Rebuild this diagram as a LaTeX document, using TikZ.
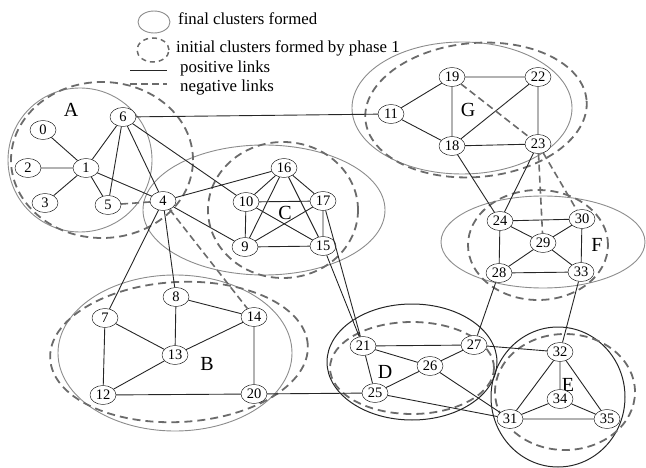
\documentclass[tikz,border=0pt]{standalone}
\usepackage{fontspec}
\setmainfont{Liberation Serif}
\usepackage{tikz}
\usetikzlibrary{shapes,positioning}
\definecolor{finalgray}{gray}{0.55}
\definecolor{initgray}{gray}{0.42}

\begin{document}
\begin{tikzpicture}[x=1pt,y=-1pt,
    vertex/.style={draw,ellipse,fill=white,minimum width=26pt,minimum height=19pt,inner sep=0pt,font=\fontsize{14.5}{14.5}\selectfont},
    poslink/.style={draw=black!85,line width=0.9pt},
    neglink/.style={draw=initgray,line width=1.6pt,dash pattern=on 7pt off 4pt},
    final/.style={draw=finalgray,line width=0.9pt},
    finalblack/.style={draw=black!85,line width=1pt},
    initial/.style={draw=initgray,line width=1.8pt,dash pattern=on 8pt off 5pt},
    clabel/.style={font=\fontsize{20}{20}\selectfont},
    legend/.style={anchor=west,inner sep=0pt,font=\fontsize{16.8}{16.8}\selectfont}]

\useasboundingbox (0,0) rectangle (646,468);

% Legend
\draw[final] (154,22) ellipse [x radius=16pt,y radius=11pt];
\node[legend] (lfinal) at (178,19) {final clusters formed};
\draw[initial,line width=1.5pt,dash pattern=on 5pt off 4pt] (153,50) ellipse [x radius=16pt,y radius=12pt];
\node[legend] (linit) at (176,48) {initial clusters formed by phase 1};
\coordinate (lpa) at (130,70);
\coordinate (lpb) at (167,70);
\draw[poslink] (lpa) -- (lpb);
\node[legend] (lpos) at (180,68) {positive links};
\coordinate (lna) at (130,84);
\coordinate (lnb) at (167,84);
\draw[neglink] (lna) -- (lnb);
\node[legend] (lneg) at (180,87) {negative links};

% Final clusters
\draw[final] (80,160) circle [radius=72pt];
\draw[final] (175,353) ellipse [x radius=117pt,y radius=78pt];
\draw[final] (264,210) ellipse [x radius=121pt,y radius=65pt];
\draw[finalblack] (412,362) ellipse [x radius=85pt,y radius=58pt];
\draw[finalblack] (558,397) ellipse [x radius=67pt,y radius=70pt];
\draw[final] (543,242) ellipse [x radius=102pt,y radius=46pt];
\draw[final] (462,108) ellipse [x radius=110pt,y radius=66pt];

% Initial clusters (phase 1)
\draw[initial] (102,160) ellipse [x radius=91pt,y radius=78pt];
\draw[initial,rotate around={3:(179,352)}] (179,352) ellipse [x radius=129pt,y radius=70pt];
\draw[initial] (283,210) ellipse [x radius=75pt,y radius=68pt];
\draw[initial] (412,368) ellipse [x radius=82pt,y radius=46pt];
\draw[initial] (565,392) ellipse [x radius=70pt,y radius=58pt];
\draw[initial] (538,245) ellipse [x radius=70pt,y radius=55pt];
\draw[initial,rotate around={5:(476,110)}] (476,110) ellipse [x radius=111pt,y radius=67pt];

% Cluster labels
\node[clabel] (labA) at (71,110) {A};
\node[clabel] (labB) at (207,364) {B};
\node[clabel] (labC) at (285,213) {C};
\node[clabel] (labD) at (385,372) {D};
\node[clabel] (labE) at (568,385) {E};
\node[clabel] (labF) at (597,245) {F};
\node[clabel] (labG) at (468,110) {G};

% Vertices
\node[vertex] (n0) at (43,130) {0};
\node[vertex] (n1) at (86,168) {1};
\node[vertex] (n2) at (28,168) {2};
\node[vertex] (n3) at (45,203) {3};
\node[vertex] (n4) at (163,201) {4};
\node[vertex] (n5) at (108,205) {5};
\node[vertex] (n6) at (123,117) {6};
\node[vertex] (n7) at (105,318) {7};
\node[vertex] (n8) at (176,297) {8};
\node[vertex] (n9) at (245,247) {9};
\node[vertex] (n10) at (246,202) {10};
\node[vertex] (n11) at (391,114) {11};
\node[vertex] (n12) at (103,395) {12};
\node[vertex] (n13) at (175,355) {13};
\node[vertex] (n14) at (254,317) {14};
\node[vertex] (n15) at (323,246) {15};
\node[vertex] (n16) at (284,168) {16};
\node[vertex] (n17) at (323,201) {17};
\node[vertex] (n18) at (452,146) {18};
\node[vertex] (n19) at (452,77) {19};
\node[vertex] (n20) at (254,394) {20};
\node[vertex] (n21) at (363,346) {21};
\node[vertex] (n22) at (538,77) {22};
\node[vertex] (n23) at (538,144) {23};
\node[vertex] (n24) at (500,221) {24};
\node[vertex] (n25) at (375,393) {25};
\node[vertex] (n26) at (430,366) {26};
\node[vertex] (n27) at (474,345) {27};
\node[vertex] (n28) at (499,273) {28};
\node[vertex] (n29) at (543,243) {29};
\node[vertex] (n30) at (582,219) {30};
\node[vertex] (n31) at (510,419) {31};
\node[vertex] (n32) at (560,352) {32};
\node[vertex] (n33) at (581,272) {33};
\node[vertex] (n34) at (560,399) {34};
\node[vertex] (n35) at (607,419) {35};

% Positive links
\draw[poslink] (n0) -- (n1) (n2) -- (n1) (n3) -- (n1) (n1) -- (n5) (n1) -- (n6) (n1) -- (n4);
\draw[poslink] (n6) -- (n5) (n6) -- (n4) (n6) -- (n10) (n6) -- (n11);
\draw[poslink] (n4) -- (n16) (n4) -- (n9) (n4) -- (n7) (n4) -- (n8);
\draw[poslink] (n16) -- (n10) (n16) -- (n17) (n16) -- (n9) (n16) -- (n15) (n10) -- (n17);
\draw[poslink] (n10) -- (n9) (n10) -- (n15) (n17) -- (n9) (n17) -- (n15) (n9) -- (n15);
\draw[poslink] (n15) -- (n21) (n17) -- (n21) (n21) -- (n25);
\draw[poslink] (n7) -- (n12) (n7) -- (n13) (n8) -- (n13) (n8) -- (n14) (n13) -- (n14);
\draw[poslink] (n13) -- (n12) (n14) -- (n20) (n12) -- (n20) (n20) -- (n25);
\draw[poslink] (n11) -- (n19) (n11) -- (n18) (n19) -- (n22) (n19) -- (n18) (n18) -- (n22);
\draw[poslink] (n18) -- (n23) (n22) -- (n23) (n18) -- (n24) (n23) -- (n24);
\draw[poslink] (n24) -- (n30) (n24) -- (n29) (n24) -- (n28) (n30) -- (n29);
\draw[poslink] (n30) -- (n33) (n29) -- (n28) (n29) -- (n33) (n28) -- (n33);
\draw[poslink] (n28) -- (n27) (n33) -- (n32);
\draw[poslink] (n21) -- (n27) (n21) -- (n26) (n26) -- (n27) (n26) -- (n25);
\draw[poslink] (n25) -- (n31) (n26) -- (n31) (n27) -- (n32);
\draw[poslink] (n32) -- (n34) (n32) -- (n31) (n32) -- (n35) (n34) -- (n31) (n34) -- (n35) (n31) -- (n35);

% Negative links
\draw[neglink] (n5) -- (n4);
\draw[neglink] (n4) -- (n14);
\draw[neglink] (n19) -- (n23);
\draw[neglink] (n23) -- (n30);
\draw[neglink] (n23) -- (n29);
\end{tikzpicture}
\end{document}
